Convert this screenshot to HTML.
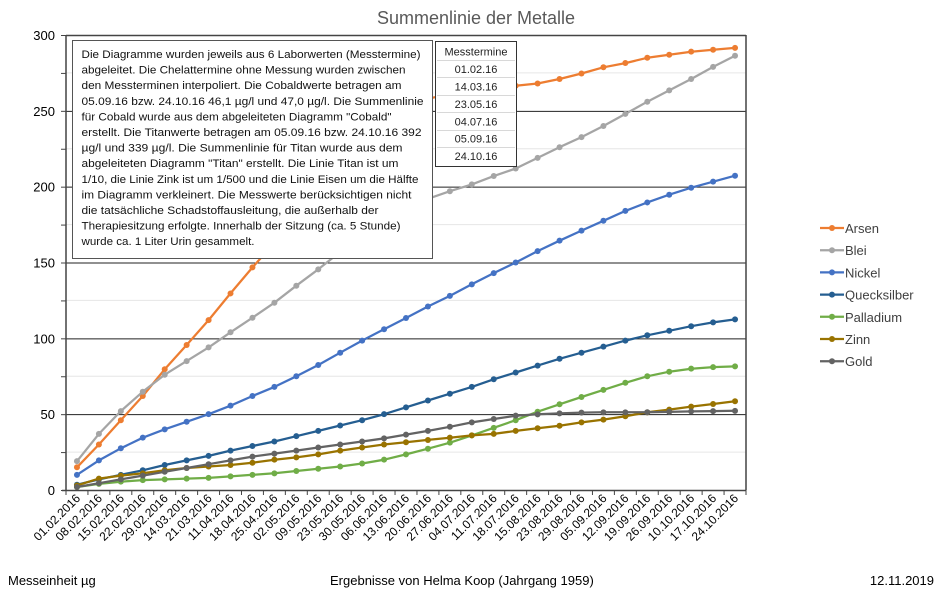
<!DOCTYPE html>
<html><head><meta charset="utf-8"><style>
html,body{margin:0;padding:0;background:#fff;}
svg{display:block;font-family:"Liberation Sans",Arial,sans-serif;}
</style></head><body>
<svg id="s" width="942" height="591" viewBox="0 0 942 591" xmlns="http://www.w3.org/2000/svg">
<rect width="942" height="591" fill="#fff"/>
<text x="476" y="24" font-size="18" fill="#595959" text-anchor="middle">Summenlinie der Metalle</text>
<g id="grid"></g>
<g id="series"></g>
<g id="axes"></g>
<!-- text box -->
<rect x="72.5" y="40.5" width="360" height="218" fill="#fff" stroke="#555" stroke-width="1"/>
<g font-size="11" fill="#111">
<text x="81.5" y="58" textLength="339" lengthAdjust="spacingAndGlyphs">Die Diagramme wurden jeweils aus 6 Laborwerten (Messtermine)</text>
<text x="81.5" y="73.6" textLength="324" lengthAdjust="spacingAndGlyphs">abgeleitet. Die Chelattermine ohne Messung wurden zwischen</text>
<text x="81.5" y="89.2" textLength="320" lengthAdjust="spacingAndGlyphs">den Messterminen interpoliert. Die Cobaldwerte betragen am</text>
<text x="81.5" y="104.8" textLength="342" lengthAdjust="spacingAndGlyphs">05.09.16 bzw. 24.10.16  46,1 µg/l und 47,0 µg/l. Die Summenlinie</text>
<text x="81.5" y="120.4" textLength="310" lengthAdjust="spacingAndGlyphs">für Cobald wurde aus dem abgeleiteten Diagramm "Cobald"</text>
<text x="81.5" y="136" textLength="340" lengthAdjust="spacingAndGlyphs">erstellt. Die Titanwerte  betragen am 05.09.16 bzw. 24.10.16  392</text>
<text x="81.5" y="151.6" textLength="321" lengthAdjust="spacingAndGlyphs">µg/l und 339 µg/l. Die Summenlinie für Titan wurde aus dem</text>
<text x="81.5" y="167.2" textLength="317" lengthAdjust="spacingAndGlyphs">abgeleiteten Diagramm "Titan" erstellt. Die  Linie Titan ist um</text>
<text x="81.5" y="182.8" textLength="337" lengthAdjust="spacingAndGlyphs">1/10, die Linie Zink ist um 1/500 und die Linie Eisen um die Hälfte</text>
<text x="81.5" y="198.4" textLength="330" lengthAdjust="spacingAndGlyphs">im Diagramm  verkleinert. Die Messwerte berücksichtigen nicht</text>
<text x="81.5" y="214" textLength="297" lengthAdjust="spacingAndGlyphs">die tatsächliche  Schadstoffausleitung, die außerhalb der</text>
<text x="81.5" y="229.6" textLength="319" lengthAdjust="spacingAndGlyphs">Therapiesitzung erfolgte. Innerhalb der Sitzung  (ca. 5 Stunde)</text>
<text x="81.5" y="245.2" textLength="173" lengthAdjust="spacingAndGlyphs">wurde ca. 1 Liter Urin gesammelt.</text>
</g>
<!-- table -->
<rect x="435.5" y="41.5" width="81" height="125" fill="#fff" stroke="#333" stroke-width="1"/>
<g stroke="#d8d8d8" stroke-width="1">
<line x1="437" y1="60.5" x2="515" y2="60.5"/><line x1="437" y1="77.5" x2="515" y2="77.5"/>
<line x1="437" y1="95.5" x2="515" y2="95.5"/><line x1="437" y1="112.5" x2="515" y2="112.5"/>
<line x1="437" y1="130.5" x2="515" y2="130.5"/><line x1="437" y1="147.5" x2="515" y2="147.5"/>
</g>
<g font-size="11" fill="#222" text-anchor="middle">
<text x="476" y="55.5">Messtermine</text>
<text x="476" y="73">01.02.16</text>
<text x="476" y="90.5">14.03.16</text>
<text x="476" y="108">23.05.16</text>
<text x="476" y="125.3">04.07.16</text>
<text x="476" y="142.7">05.09.16</text>
<text x="476" y="160">24.10.16</text>
</g>
<g id="legend" font-size="13" fill="#404040"></g>
<g font-size="13" fill="#000">
<text x="8" y="585">Messeinheit µg</text>
<text x="330" y="585">Ergebnisse von Helma Koop (Jahrgang 1959)</text>
<text x="934" y="585" text-anchor="end">12.11.2019</text>
</g>
</svg>
<script>
var NS="http://www.w3.org/2000/svg";
function el(p,t,a,txt){var e=document.createElementNS(NS,t);for(var k in a)e.setAttribute(k,a[k]);if(txt!=null)e.textContent=txt;p.appendChild(e);return e;}
var L=66,R=746,T=35,B=490,n=31,cw=(R-L)/n;
function X(i){return L+cw*(i+0.5);}
function Y(v){return B-v*(B-T)/300;}
var grid=document.getElementById('grid'),ax=document.getElementById('axes'),ser=document.getElementById('series'),leg=document.getElementById('legend');
for(var v=25;v<=275;v+=50){el(grid,'line',{x1:L,x2:R,y1:Y(v),y2:Y(v),stroke:'#e6e6e6','stroke-width':1});}
for(var v=50;v<=250;v+=50){el(grid,'line',{x1:L,x2:R,y1:Y(v)+.5,y2:Y(v)+.5,stroke:'#222','stroke-width':1});}
el(ax,'line',{x1:L,x2:R,y1:T+.5,y2:T+.5,stroke:'#444','stroke-width':1.5});
el(ax,'line',{x1:R,x2:R,y1:T,y2:B,stroke:'#444','stroke-width':1.5});
el(ax,'line',{x1:L,x2:L,y1:T,y2:B,stroke:'#444','stroke-width':1.5});
el(ax,'line',{x1:L-4,x2:R,y1:B+.5,y2:B+.5,stroke:'#444','stroke-width':1.5});
for(var v=0;v<=300;v+=25){el(ax,'line',{x1:L-5,x2:L,y1:Y(v)+.5,y2:Y(v)+.5,stroke:'#444','stroke-width':1});
 if(v%50==0)el(ax,'text',{x:55,y:Y(v)+5,'font-size':13,'text-anchor':'end',fill:'#000'},String(v));}
var labels=["01.02.2016","08.02.2016","15.02.2016","22.02.2016","29.02.2016","14.03.2016","21.03.2016","11.04.2016","18.04.2016","25.04.2016","02.05.2016","09.05.2016","23.05.2016","30.05.2016","06.06.2016","13.06.2016","20.06.2016","27.06.2016","04.07.2016","11.07.2016","18.07.2016","15.08.2016","23.08.2016","29.08.2016","05.09.2016","12.09.2016","19.09.2016","26.09.2016","10.10.2016","17.10.2016","24.10.2016"];
for(var k=0;k<=n;k++){var x=L+cw*k;el(ax,'line',{x1:x,x2:x,y1:B,y2:B+5,stroke:'#444','stroke-width':1});}
for(var i=0;i<n;i++){var x=X(i)+4,y=499;el(ax,'text',{x:x,y:y,'font-size':12,'text-anchor':'end',fill:'#000',transform:'rotate(-45 '+x+' '+y+')'},labels[i]);}
var S=[
["Arsen","#ed7d31",[15,30,46,62,79.6,95.6,112,129.6,146.8,163,180,196,212,228,243,252,258,261,263,265,266.5,268,271,274.6,278.7,281.5,285,287,289,290.3,291.5]],
["Blei","#a5a5a5",[19,37,52,64.8,76,85,94,104,113.6,123.5,134.7,145.5,157,167,177,185,192,197,201.5,207,212,219,226,232.7,240,248,256,263.5,271,279,286.3]],
["Nickel","#4472c4",[10,19.5,27.5,34.5,40,45,50,55.6,62,68,75,82.4,90.5,98.5,106,113.4,121,128,135.6,143,150,157.5,164.4,171,177.5,184,189.6,194.7,199.3,203.3,207.2]],
["Quecksilber","#255e91",[3.5,7,10,13,16.5,19.5,22.5,26,29,32,35.5,39,42.5,46,50,54.5,59,63.5,68,73,77.5,82,86.5,90.5,94.5,98.5,102,105,108,110.5,112.5]],
["Palladium","#70ad47",[2,4,5.5,6.5,7,7.5,8,9,10,11,12.5,14,15.5,17.5,20,23.5,27.2,31.2,36,41,46,51.6,56.5,61.3,66,70.7,75,78,80,81,81.5]],
["Zinn","#997300",[3,7.5,9.5,11,13,14.5,15.5,16.5,18,20,21.5,23.5,26,28,30,31.5,33,34.5,36,37,39,40.7,42.4,44.6,46.4,48.6,51.2,53,55,56.7,58.5]],
["Gold","#636363",[2,4.5,7,9.5,12,14.5,17,19.5,22,24,26,28,30,32,34,36.5,39,41.7,44.6,46.8,49,49.9,50.5,51,51.2,51.2,51.3,51.5,51.8,52,52.2]]
];
S.forEach(function(s,j){
 var d=s[2].map(function(v,i){return (i?'L':'M')+X(i).toFixed(1)+' '+Y(v).toFixed(1);}).join(' ');
 el(ser,'path',{d:d,fill:'none',stroke:s[1],'stroke-width':2.25,'stroke-linejoin':'round'});
 s[2].forEach(function(v,i){el(ser,'circle',{cx:X(i),cy:Y(v),r:3,fill:s[1]});});
 var ly=228+j*22.2;
 el(leg,'line',{x1:820,x2:844,y1:ly,y2:ly,stroke:s[1],'stroke-width':2.25});
 el(leg,'circle',{cx:832,cy:ly,r:3,fill:s[1]});
 el(leg,'text',{x:845,y:ly+5},s[0]);
});
</script>
</body></html>
